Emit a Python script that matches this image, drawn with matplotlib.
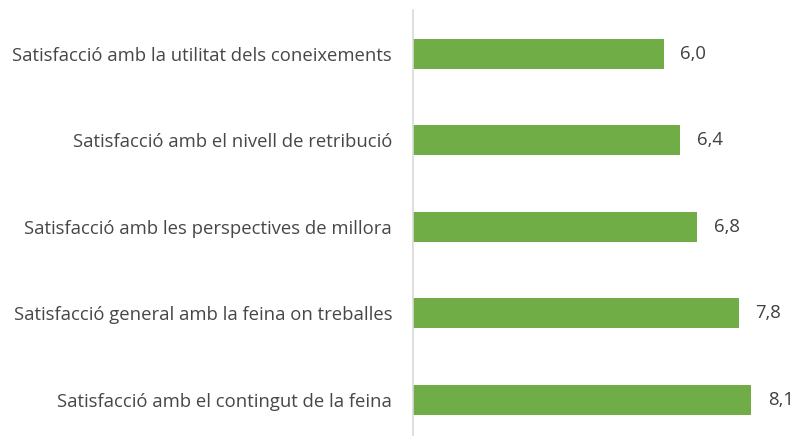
import matplotlib
matplotlib.use('Agg')
from matplotlib import pyplot as plt

plt.rcParams['font.family'] = ['Open Sans', 'DejaVu Sans']

categories = ['Satisfacció amb la utilitat dels coneixements',
              'Satisfacció amb el nivell de retribució',
              'Satisfacció amb les perspectives de millora',
              'Satisfacció general amb la feina on treballes',
              'Satisfacció amb el contingut de la feina']
values = [6.0, 6.4, 6.8, 7.8, 8.1]
value_labels = ['6,0', '6,4', '6,8', '7,8', '8,1']

fig = plt.figure(figsize=(7.95, 4.36), dpi=100)
ax = fig.add_axes([413 / 795, -7 / 436, 376 / 795, 432.5 / 436])

pos = list(range(len(values)))
bars = ax.barh(pos, values, height=0.35, color='#70AD47')
ax.set_xlim(0, 9)
ax.set_ylim(len(values) - 0.5, -0.5)

ax.set_yticks(pos)
ax.set_yticklabels(categories, fontsize=13.3, color='#474747')
ax.tick_params(axis='y', length=0, pad=15)
ax.set_xticks([])

for s in ['top', 'right', 'bottom']:
    ax.spines[s].set_visible(False)
ax.spines['left'].set_color('#d9d9d9')
ax.spines['left'].set_linewidth(1.2)

for b, lab in zip(bars, value_labels):
    ax.annotate(lab, (b.get_width(), b.get_y() + b.get_height() / 2),
                xytext=(12, 0), textcoords='offset points',
                va='center', ha='left', fontsize=13.3, color='#404040')

fig.savefig('out.png', dpi=100)
